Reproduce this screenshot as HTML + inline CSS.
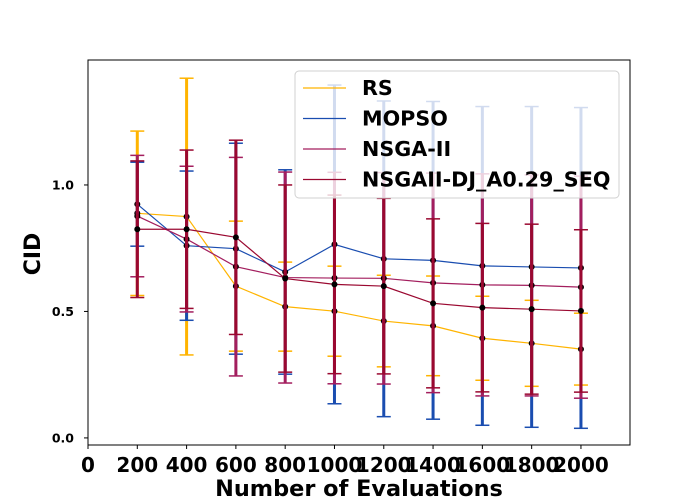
<!DOCTYPE html>
<html><head><meta charset="utf-8"><style>
body{margin:0;background:#fff}
svg{display:block;font-family:"DejaVu Sans","Liberation Sans",sans-serif}
</style></head><body>
<svg id="chart" width="700" height="500" viewBox="0 0 700 500" xmlns="http://www.w3.org/2000/svg"></svg>
<script>
const evals = [200,400,600,800,1000,1200,1400,1600,1800,2000];
const seriesNames = ["RS","MOPSO","NSGA-II","NSGAII-DJ_A0.29_SEQ"];
const seriesColors = ["#ffb400","#1a4db0","#a31e5e","#9a0830"];
const rsMean = [0.888,0.875,0.600,0.519,0.501,0.462,0.443,0.394,0.374,0.351];
const rsErr  = [0.325,0.547,0.257,0.176,0.178,0.181,0.197,0.166,0.170,0.142];
const mopsoMean = [0.924,0.760,0.748,0.656,0.765,0.708,0.702,0.680,0.676,0.672];
const mopsoErr  = [0.166,0.295,0.417,0.404,0.630,0.624,0.628,0.630,0.634,0.634];
const nsgaMean = [0.877,0.786,0.677,0.634,0.632,0.631,0.613,0.605,0.603,0.596];
const nsgaErr  = [0.240,0.288,0.432,0.417,0.418,0.418,0.434,0.439,0.437,0.439];
const djMean = [0.825,0.825,0.793,0.630,0.607,0.600,0.532,0.515,0.509,0.502];
const djErr  = [0.270,0.313,0.384,0.370,0.353,0.347,0.334,0.333,0.336,0.321];
const xTicks = [0,200,400,600,800,1000,1200,1400,1600,1800,2000];
const yTicks = [0.0,0.5,1.0];
const yTickLabels = ["0.0","0.5","1.0"];

const L=88,R=630,T=60,B=445;
const xMin=0,xMax=2199,yMin=-0.028,yMax=1.494;
const X=v=>L+(v-xMin)/(xMax-xMin)*(R-L);
const Y=v=>B-(v-yMin)/(yMax-yMin)*(B-T);
const svg=document.getElementById('chart');
const NS="http://www.w3.org/2000/svg";
function mk(tag,attrs,parent){const e=document.createElementNS(NS,tag);for(const k in attrs)e.setAttribute(k,attrs[k]);(parent||svg).appendChild(e);return e;}

const means=[rsMean,mopsoMean,nsgaMean,djMean];
const errs=[rsErr,mopsoErr,nsgaErr,djErr];
const keys=["rs","mopso","nsga2","nsgaii-dj"];
for(let s=0;s<4;s++){
  const g=mk('g',{});
  
  
  const c=seriesColors[s];
  for(let i=0;i<evals.length;i++){
    const x=X(evals[i]),y1=Y(means[s][i]+errs[s][i]),y2=Y(means[s][i]-errs[s][i]);
    const eb=mk('g',{},g);
    
    
    mk('line',{x1:x,x2:x,y1:y1,y2:y2,stroke:c,'stroke-width':3},eb);
    mk('line',{x1:x-7,x2:x+7,y1:y1,y2:y1,stroke:c,'stroke-width':1.5},eb);
    mk('line',{x1:x-7,x2:x+7,y1:y2,y2:y2,stroke:c,'stroke-width':1.5},eb);
  }
  const pts=evals.map((e,i)=>X(e)+','+Y(means[s][i])).join(' ');
  const pl=mk('polyline',{points:pts,fill:'none',stroke:c,'stroke-width':1.2},g);
  
  
  for(let i=0;i<evals.length;i++){
    const d=mk('circle',{cx:X(evals[i]),cy:Y(means[s][i]),r:3,fill:'#000'},g);
    
    
  }
}

const frame=mk('rect',{x:L,y:T,width:R-L,height:B-T,fill:'none',stroke:'#000','stroke-width':1});



xTicks.forEach(t=>{
  const x=X(t);
  mk('line',{x1:x,x2:x,y1:B,y2:B+4,stroke:'#000','stroke-width':1});
  const tx=mk('text',{x:x,y:B+27,'text-anchor':'middle','font-size':20,'font-weight':'bold',fill:'#000'});
  tx.textContent=t;
  
  
});
yTicks.forEach((t,i)=>{
  const y=Y(t);
  mk('line',{x1:L-4,x2:L,y1:y,y2:y,stroke:'#000','stroke-width':1});
  const tx=mk('text',{x:L-14,y:y+4.5,'text-anchor':'end','font-size':12.5,'font-weight':'bold',fill:'#000'});
  tx.textContent=yTickLabels[i];
  
  
});
const xt=mk('text',{x:359,y:496,'text-anchor':'middle','font-size':22.4,'font-weight':'bold',fill:'#000'});
xt.textContent='Number of Evaluations';


const yt=mk('text',{x:0,y:0,transform:'translate(40,254) rotate(-90)','text-anchor':'middle','font-size':22,'font-weight':'bold',fill:'#000'});
yt.textContent='CID';



const lg=mk('g',{});


mk('rect',{x:295,y:71,width:324,height:127,rx:4,fill:'rgba(255,255,255,0.8)',stroke:'#d0d0d0','stroke-width':1},lg);
seriesNames.forEach((n,i)=>{
  const y=88+i*30.5;
  const e=mk('g',{},lg);
  
  
  mk('line',{x1:303,x2:346,y1:y,y2:y,stroke:seriesColors[i],'stroke-width':1.2},e);
  const t=mk('text',{x:362,y:y+7,'font-size':20.7,'font-weight':'bold',fill:'#000'},e);
  t.textContent=n;
});
</script>
</body></html>
